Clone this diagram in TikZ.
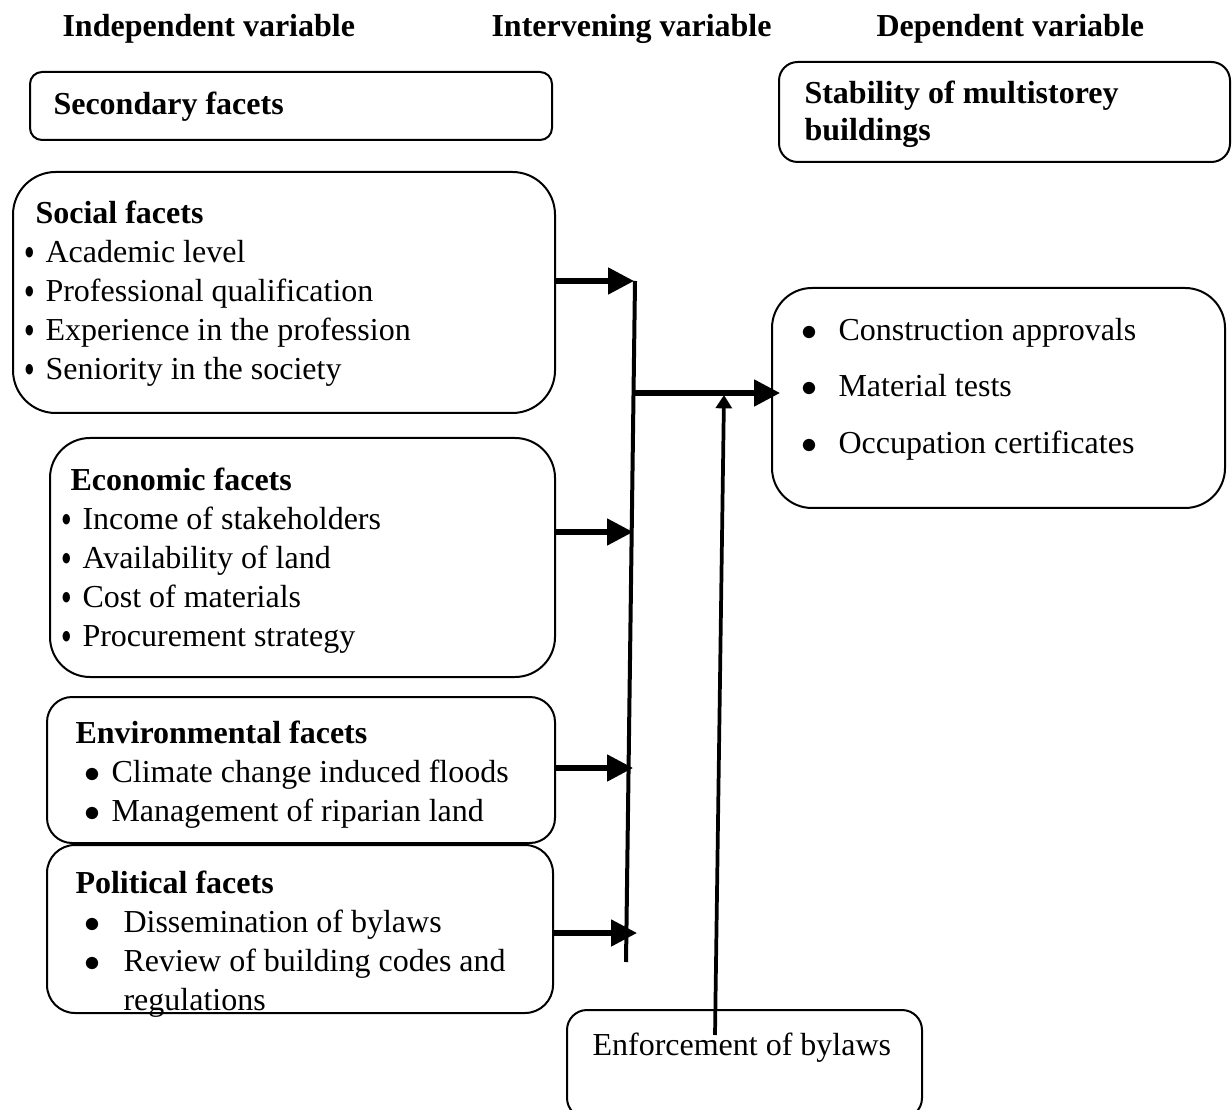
\documentclass[tikz,border=0pt]{standalone}
\usepackage{fontspec}
\setmainfont{Liberation Serif}
\usepackage{graphicx}
\usepackage{tikz}
\usetikzlibrary{arrows.meta}
\usetikzlibrary{fit}
\usetikzlibrary{positioning}
\tikzset{>=latex}
\newdimen\pxu
\pxu=0.375pt
\newcommand\bodysize{\fontsize{12pt}{14.6pt}\selectfont}
\newcommand\bul[1]{\makebox[#1][l]{$\bullet$}}
\newcommand\sbul{\makebox[21\pxu][l]{\raisebox{1.1pt}{\scalebox{0.6}[0.85]{$\bullet$}}}}
\tikzset{
    frame/.style = {draw, line width=0.75pt, inner sep=0pt, rounded corners=#1},
    frame/.default = 6pt,
    head/.style = {anchor=base west, inner sep=0pt, font=\bodysize\bfseries},
    plain/.style = {anchor=base west, inner sep=0pt, font=\bodysize},
    items/.style = {anchor=north west, inner sep=0pt, align=left, font=\bodysize},
}
\tikzset{
    flow/.style = {line width=1.9pt, -{Triangle[length=9.7pt,width=9.7pt]}},
    bus/.style = {line width=1.5pt},
    enf/.style = {line width=1.4pt, -{Triangle[length=5pt,width=6pt]}},
}

\begin{document}
\begin{tikzpicture}[x=0.375pt,y=-0.375pt]
    \useasboundingbox (0,0) rectangle (1232,1110);
    % column headings
    \node[head] (indep) at (62,37) {Independent variable};
    \node[head] (interv) at (491,37) {Intervening variable};
    \node[head] (dep) at (876,37) {Dependent variable};
    % frames
    \node[frame=4.5pt, fit={(30,72) (552,140)}] (secbox) {};
    \node[frame=7pt, fit={(779,62) (1230,162)}] (stabbox) {};
    \node[frame=16pt, fit={(13,172) (555,413)}] (socialbox) {};
    \node[frame=15pt, fit={(50,438) (555,677)}] (econbox) {};
    \node[frame=9.4pt, fit={(47,697) (555,843)}] (envbox) {};
    \node[frame=10.5pt, fit={(47,845) (553,1013)}] (polbox) {};
    \node[frame=15pt, fit={(772,288) (1225,508)}] (outbox) {};
    \node[frame=7.5pt, fit={(567,1010) (922,1118)}] (enfbox) {};
    % texts
    \node[head] (sectext) at (53,115) {Secondary facets};
    \node[items, font=\fontsize{12pt}{13.9pt}\selectfont\bfseries] (stabtext) at (804,77)
        {\strut Stability of multistorey\\buildings};
    \node[items] (socialtext) at (24,196)
        {\strut\hspace*{11\pxu}\textbf{Social facets}\\
         \sbul Academic level\\
         \sbul Professional qualification\\
         \sbul Experience in the profession\\
         \sbul Seniority in the society};
    \node[items] (econtext) at (61,463)
        {\strut\hspace*{9\pxu}\textbf{Economic facets}\\
         \sbul Income of stakeholders\\
         \sbul Availability of land\\
         \sbul Cost of materials\\
         \sbul Procurement strategy};
    \node[items] (envtext) at (75,716)
        {\strut\textbf{Environmental facets}\\
         \hspace*{9\pxu}\bul{27\pxu}Climate change induced floods\\
         \hspace*{9\pxu}\bul{27\pxu}Management of riparian land};
    \node[items] (poltext) at (75,866)
        {\strut\textbf{Political facets}\\
         \hspace*{9\pxu}\bul{39\pxu}Dissemination of bylaws\\
         \hspace*{9\pxu}\bul{39\pxu}Review of building codes and\\
         \hspace*{48\pxu}regulations};
    \node[items, font=\fontsize{12pt}{21.2pt}\selectfont] (outtext) at (801,300)
        {\strut\bul{37\pxu}Construction approvals\\
         \bul{37\pxu}Material tests\\
         \bul{37\pxu}Occupation certificates};
    \node[plain] (enftext) at (592,1055) {Enforcement of bylaws};
    % connectors
    \coordinate (bustop) at (635,281);
    \coordinate (busbot) at (626,962);
    \draw[bus] (bustop) -- (busbot);
    \coordinate (socin) at (634,281);
    \coordinate (ecoin) at (633,532);
    \coordinate (envin) at (633,768);
    \coordinate (polin) at (637,933);
    \draw[flow] (socialbox.east |- socin) -- (socin);
    \draw[flow] (econbox.east |- ecoin) -- (ecoin);
    \draw[flow] (envbox.east |- envin) -- (envin);
    \draw[flow] (polbox.east |- polin) -- (polin);
    \coordinate (busmid) at (634,393);
    \coordinate (outin) at (780,393);
    \draw[flow] (busmid) -- (outin);
    \coordinate (enfout) at (715,1035);
    \coordinate (enfin) at (724,395);
    \draw[enf] (enfout) -- (enfin);
\end{tikzpicture}
\end{document}
